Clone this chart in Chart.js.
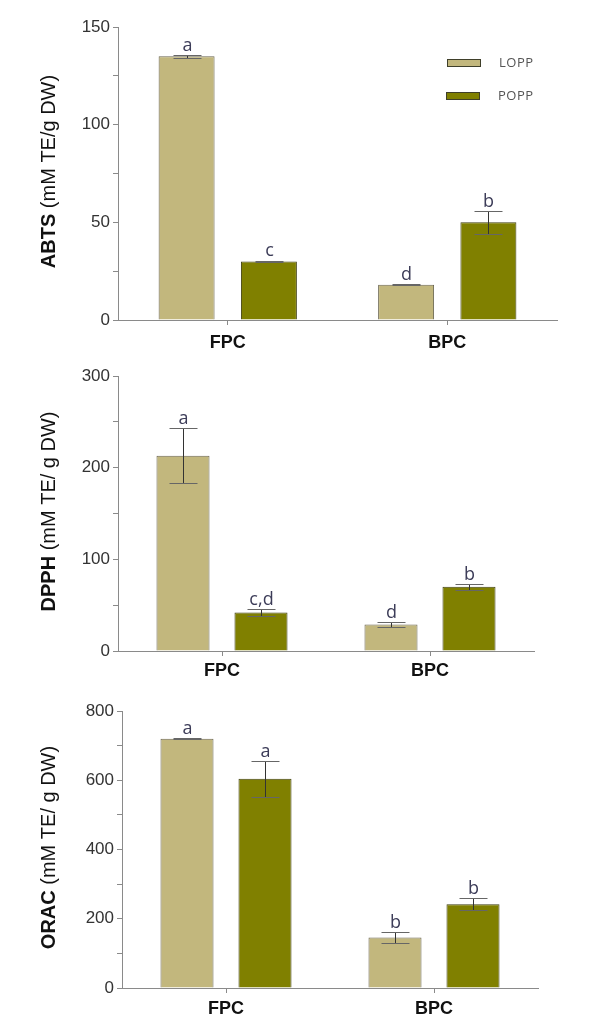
<!DOCTYPE html>
<html>
<head>
<meta charset="utf-8">
<script src="https://cdn.jsdelivr.net/npm/chart.js@4.4.1/dist/chart.umd.min.js"></script>
<style>
  body { margin: 0; background: #fff; }
  .wrap { position: relative; width: 607px; height: 1028px; }
  canvas { position: absolute; left: 0; }
</style>
</head>
<body>
<div class="wrap">
  <canvas id="abts" width="607" height="360" style="top:0px"></canvas>
  <canvas id="dpph" width="607" height="335" style="top:360px"></canvas>
  <canvas id="orac" width="607" height="333" style="top:695px"></canvas>
</div>
<script>
// categories and series
const categories = ["FPC", "BPC"];
const seriesNames = ["LOPP", "POPP"];

// ABTS
const abtsLopp = [135, 18];
const abtsLoppErr = [0.8, 0.3];
const abtsPopp = [30, 50];
const abtsPoppErr = [0.4, 6];
const abtsLoppLetters = ["a", "d"];
const abtsPoppLetters = ["c", "b"];
const abtsTicks = [0, 50, 100, 150];

// DPPH
const dpphLopp = [213, 29];
const dpphLoppErr = [30, 2.5];
const dpphPopp = [42, 70];
const dpphPoppErr = [3.5, 3.5];
const dpphLoppLetters = ["a", "d"];
const dpphPoppLetters = ["c,d", "b"];
const dpphTicks = [0, 100, 200, 300];

// ORAC
const oracLopp = [720, 146];
const oracLoppErr = [2, 15];
const oracPopp = [604, 242];
const oracPoppErr = [51, 17];
const oracLoppLetters = ["a", "b"];
const oracPoppLetters = ["a", "b"];
const oracTicks = [0, 200, 400, 600, 800];

const loppColor = "#c2b77d";
const poppColor = "#808000";
const axisColor = "#8a8a8a";
const font = "'Liberation Sans', Arial, sans-serif";

// error bars + significance letters
const errorBars = {
    id: "errorBars",
    afterDatasetsDraw(chart) {
        const ctx = chart.ctx;
        const y = chart.scales.y;
        chart.data.datasets.forEach((ds, i) => {
            const meta = chart.getDatasetMeta(i);
            meta.data.forEach((bar, j) => {
                const v = ds.data[j];
                const e = ds.errors[j];
                const top = Math.round(y.getPixelForValue(v + e)) + 0.5;
                const bot = Math.round(y.getPixelForValue(v - e)) + 0.5;
                const x = Math.round(bar.x) + 0.5;
                ctx.save();
                ctx.lineWidth = 1;
                ctx.strokeStyle = "#333";
                ctx.beginPath();
                ctx.moveTo(x, top);
                ctx.lineTo(x, bot);
                ctx.stroke();
                ctx.strokeStyle = "#666";
                ctx.beginPath();
                ctx.moveTo(x - 14, top);
                ctx.lineTo(x + 14, top);
                ctx.moveTo(x - 14, bot);
                ctx.lineTo(x + 14, bot);
                ctx.stroke();
                ctx.fillStyle = "#3c3c58";
                ctx.font = "18px 'Open Sans', sans-serif";
                ctx.textAlign = "center";
                ctx.textBaseline = "alphabetic";
                ctx.fillText(ds.letters[j], x, Math.min(top, bar.y) - 5);
                ctx.restore();
            });
        });
    }
};

// y title with bold assay name
const yTitle = {
    id: "yTitle",
    afterDraw(chart, args, opts) {
        const ctx = chart.ctx;
        const area = chart.chartArea;
        const bold = opts.name;
        const rest = opts.unit;
        ctx.save();
        ctx.translate(49, (area.top + area.bottom) / 2 - 2);
        ctx.rotate(-Math.PI / 2);
        ctx.textBaseline = "middle";
        ctx.textAlign = "left";
        ctx.fillStyle = "#111";
        ctx.font = "bold 20px " + font;
        const w1 = ctx.measureText(bold).width;
        ctx.font = "20px " + font;
        const w2 = ctx.measureText(rest).width;
        const start = -(w1 + w2) / 2;
        ctx.font = "bold 20px " + font;
        ctx.fillText(bold, start, 0);
        ctx.font = "20px " + font;
        ctx.fillText(rest, start + w1, 0);
        ctx.restore();
    }
};

// legend drawn inside the first panel
const boxLegend = {
    id: "boxLegend",
    afterDraw(chart, args, opts) {
        if (!opts.show) return;
        const ctx = chart.ctx;
        const rows = [
            { x: 447, y: 59, text: 499 },
            { x: 446, y: 92, text: 498 }
        ];
        chart.data.datasets.forEach((ds, i) => {
            const r = rows[i];
            ctx.save();
            ctx.fillStyle = ds.backgroundColor;
            ctx.fillRect(r.x, r.y, 34, 8);
            ctx.strokeStyle = "#3f3f2a";
            ctx.lineWidth = 1;
            ctx.strokeRect(r.x + 0.5, r.y + 0.5, 33, 7);
            ctx.fillStyle = "#555";
            ctx.font = "13px 'Open Sans', sans-serif";
            ctx.letterSpacing = "0.5px";
            ctx.textBaseline = "middle";
            ctx.fillText(ds.label, r.text, r.y + 4);
            ctx.restore();
        });
    }
};

function makeChart(id, opt) {
    const ctx = document.getElementById(id).getContext("2d");
    const canvasH = ctx.canvas.height;
    return new Chart(ctx, {
        type: "bar",
        data: {
            labels: categories,
            datasets: [{
                label: seriesNames[0],
                data: opt.lopp,
                errors: opt.loppErr,
                letters: opt.loppLetters,
                backgroundColor: loppColor,
                borderColor: "#6b6650",
                borderWidth: 1,
                categoryPercentage: 0.75,
                barPercentage: 0.68
            }, {
                label: seriesNames[1],
                data: opt.popp,
                errors: opt.poppErr,
                letters: opt.poppLetters,
                backgroundColor: poppColor,
                borderColor: "#3f3f10",
                borderWidth: 1,
                categoryPercentage: 0.75,
                barPercentage: 0.68
            }]
        },
        options: {
            responsive: false,
            animation: false,
            layout: { padding: { left: 0, top: opt.top, right: 607 - opt.right, bottom: 0 } },
            plugins: {
                legend: { display: false },
                tooltip: { enabled: false },
                yTitle: { name: opt.name, unit: opt.unit },
                boxLegend: { show: opt.legend }
            },
            scales: {
                x: {
                    grid: { display: true, drawOnChartArea: false, offset: false, tickLength: 5, color: axisColor },
                    border: { color: axisColor },
                    ticks: { color: "#111", padding: opt.xPad, font: { family: font, size: 18, weight: "bold" } },
                    afterFit: (s) => { s.height = canvasH - opt.bottom; }
                },
                y: {
                    min: 0,
                    max: opt.ticks[opt.ticks.length - 1],
                    grid: { display: true, drawOnChartArea: false, tickLength: 5, color: axisColor },
                    border: { color: axisColor },
                    ticks: {
                        stepSize: opt.ticks[1] / 2,
                        color: "#333",
                        padding: 3,
                        font: { family: font, size: 17 },
                        callback: (v) => opt.ticks.includes(v) ? v : ""
                    },
                    afterFit: (s) => { s.width = opt.left; }
                }
            }
        },
        plugins: [errorBars, yTitle, boxLegend]
    });
}

makeChart("abts", {
    lopp: abtsLopp, loppErr: abtsLoppErr, loppLetters: abtsLoppLetters,
    popp: abtsPopp, poppErr: abtsPoppErr, poppLetters: abtsPoppLetters,
    ticks: abtsTicks, name: "ABTS", unit: " (mM TE/g DW)",
    left: 118, right: 557, top: 27, bottom: 320, xPad: 7, legend: true
});
makeChart("dpph", {
    lopp: dpphLopp, loppErr: dpphLoppErr, loppLetters: dpphLoppLetters,
    popp: dpphPopp, poppErr: dpphPoppErr, poppLetters: dpphPoppLetters,
    ticks: dpphTicks, name: "DPPH", unit: " (mM TE/ g DW)",
    left: 118, right: 534, top: 16, bottom: 291, xPad: 4, legend: false
});
makeChart("orac", {
    lopp: oracLopp, loppErr: oracLoppErr, loppLetters: oracLoppLetters,
    popp: oracPopp, poppErr: oracPoppErr, poppLetters: oracPoppLetters,
    ticks: oracTicks, name: "ORAC", unit: " (mM TE/ g DW)",
    left: 122, right: 538, top: 16, bottom: 293, xPad: 5, legend: false
});
</script>
</body>
</html>
